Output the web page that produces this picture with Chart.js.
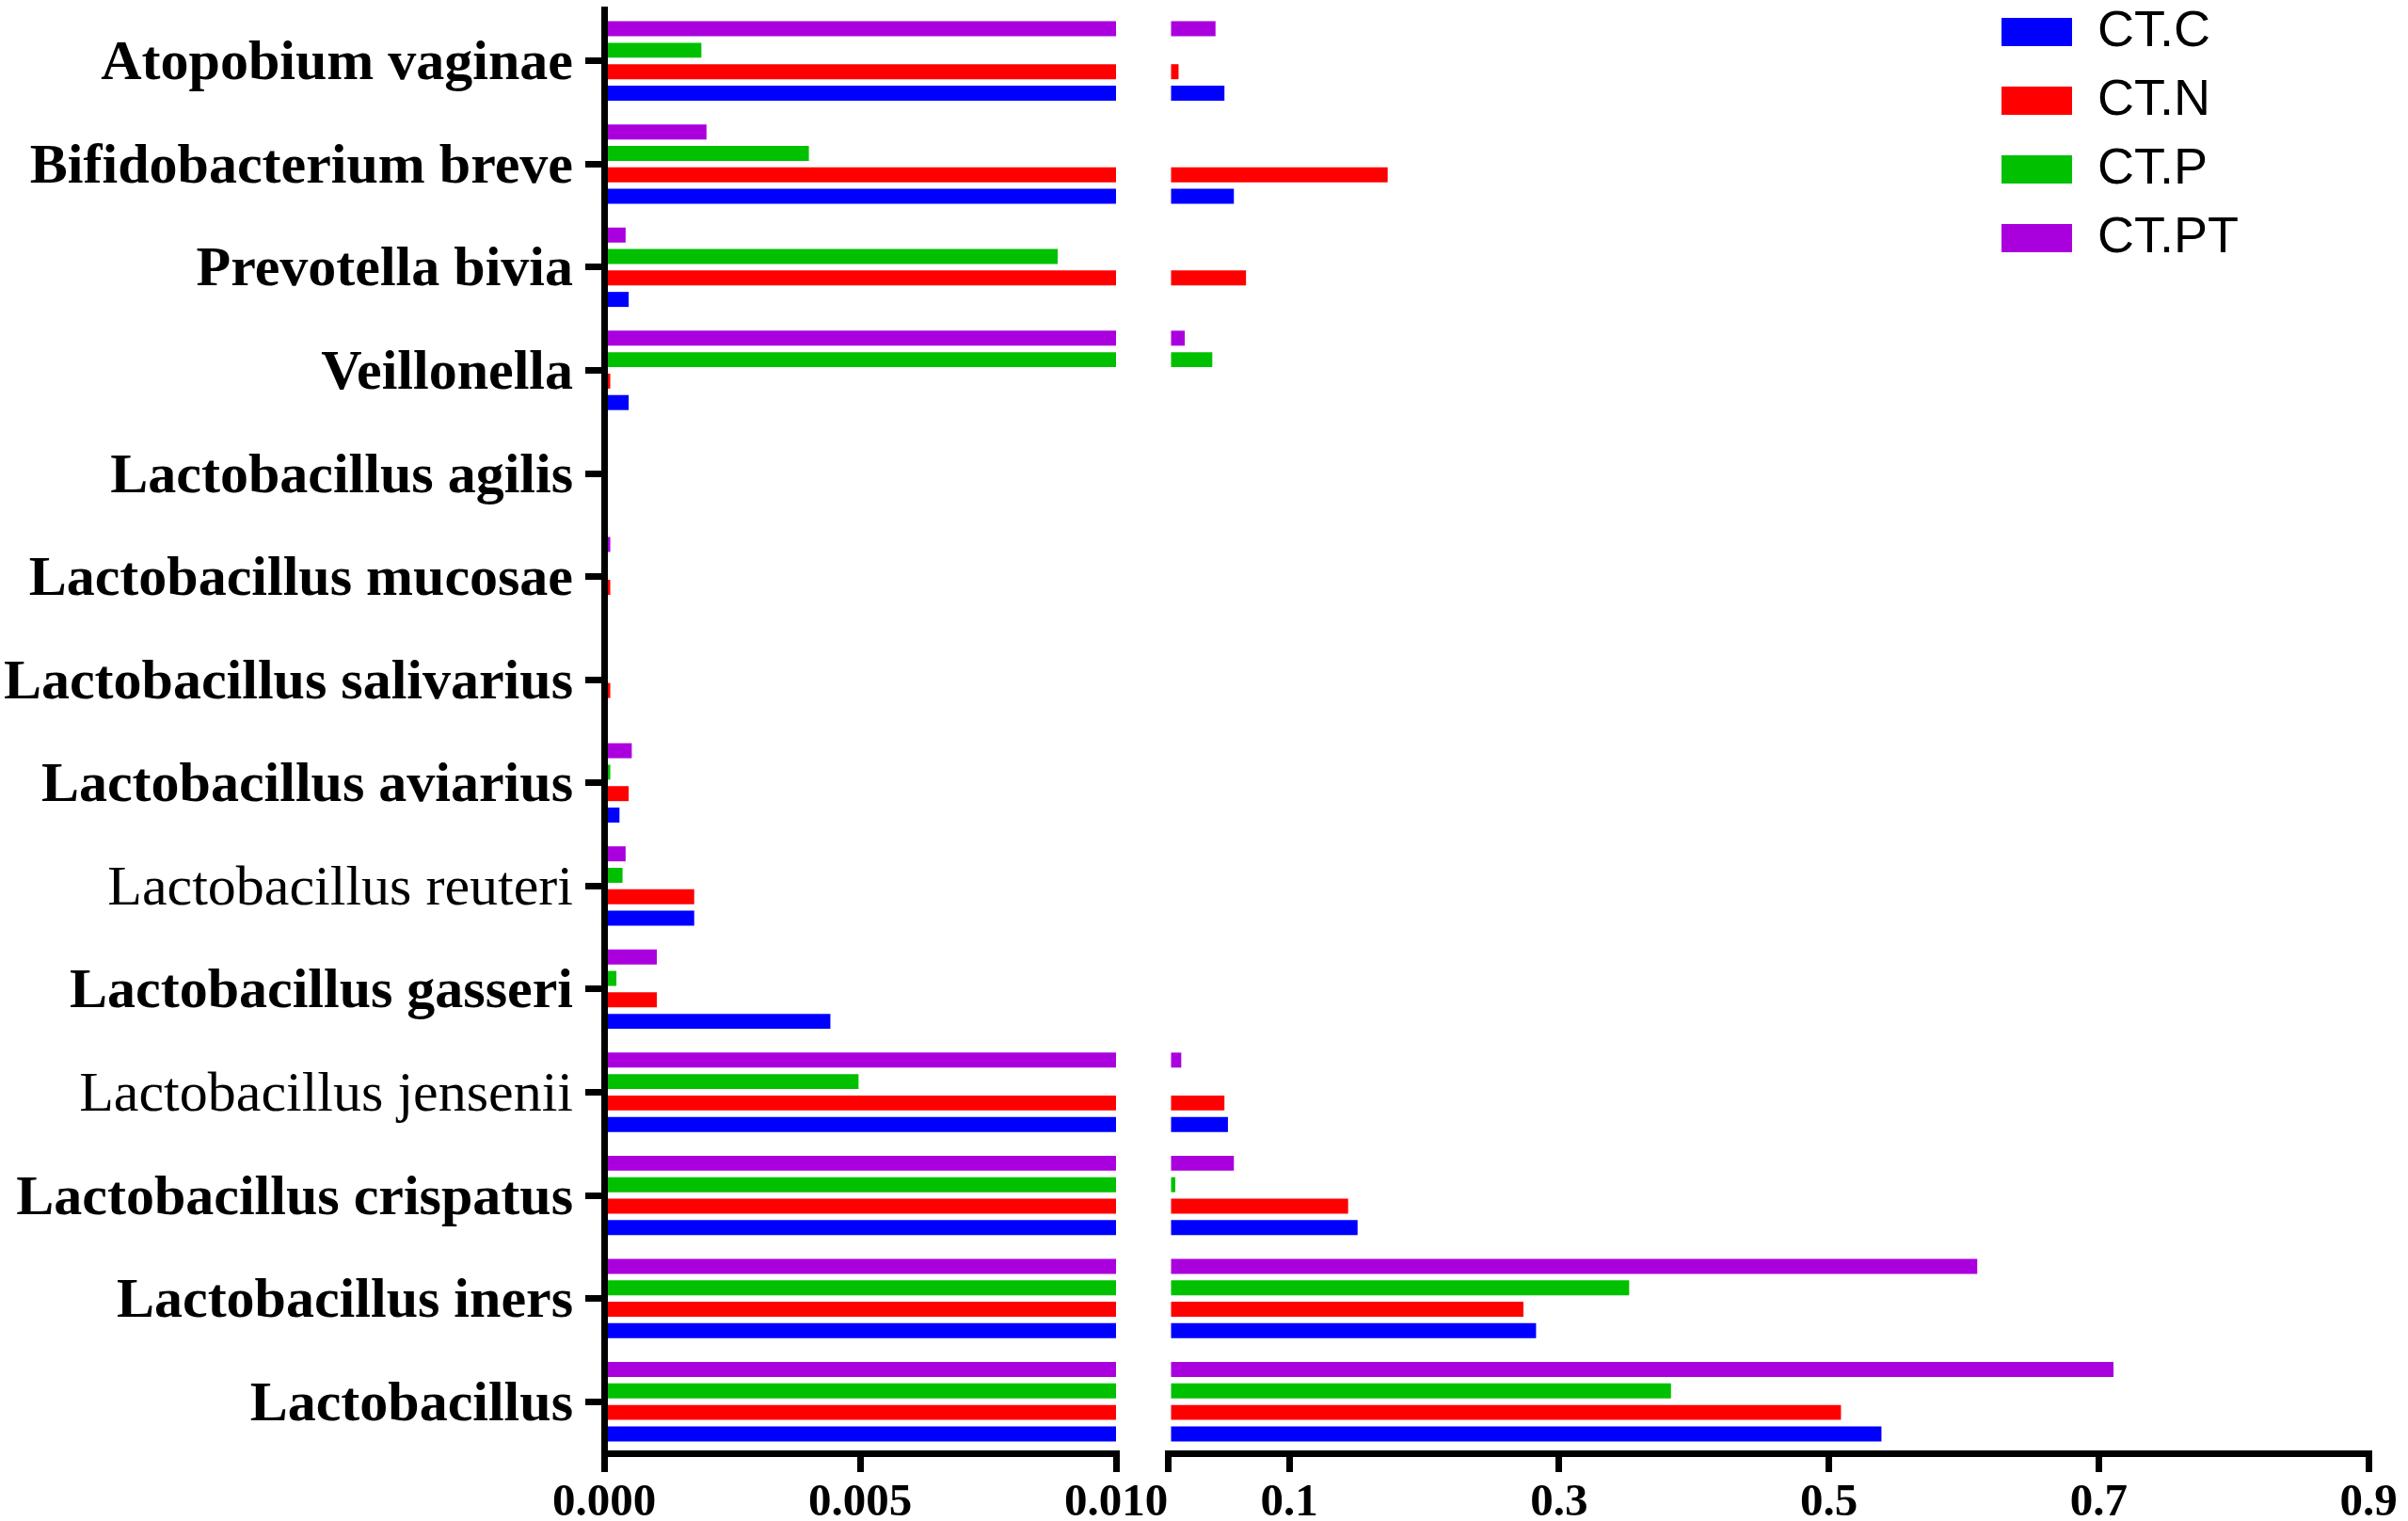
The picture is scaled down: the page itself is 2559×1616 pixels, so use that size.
<!DOCTYPE html>
<html>
<head>
<meta charset="utf-8">
<style>
  html, body { margin: 0; padding: 0; background: #fff; }
  #wrap { width: 2559px; height: 1616px; }
</style>
<script src="https://cdn.jsdelivr.net/npm/chart.js@4/dist/chart.umd.min.js"></script>
</head>
<body>
<div id="wrap"><canvas id="c" width="2559" height="1616"></canvas></div>
<script>
// ---------------- data ----------------
const CATEGORIES = [
  'Atopobium vaginae', 'Bifidobacterium breve', 'Prevotella bivia', 'Veillonella',
  'Lactobacillus agilis', 'Lactobacillus mucosae', 'Lactobacillus salivarius',
  'Lactobacillus aviarius', 'Lactobacillus reuteri', 'Lactobacillus gasseri',
  'Lactobacillus jensenii', 'Lactobacillus crispatus', 'Lactobacillus iners', 'Lactobacillus'
];
const NORMAL_WEIGHT_LABELS = ['Lactobacillus reuteri', 'Lactobacillus jensenii'];

const SERIES_NAMES = ['CT.C', 'CT.N', 'CT.P', 'CT.PT'];
const CT_C  = [0.052, 0.059, 0.00048, 0.00048, 0, 0, 0.00006, 0.0003, 0.00176, 0.00442, 0.0546, 0.1507, 0.283, 0.539];
const CT_N  = [0.018, 0.173, 0.068, 0.00012, 0, 0.00012, 0.00012, 0.00048, 0.00176, 0.00103, 0.052, 0.1437, 0.2736, 0.509];
const CT_P  = [0.0019, 0.004, 0.00886, 0.043, 0, 0, 0, 0.00012, 0.00036, 0.00024, 0.00497, 0.0156, 0.352, 0.383];
const CT_PT = [0.0454, 0.002, 0.00042, 0.0226, 0, 0.00012, 0.00006, 0.00054, 0.00042, 0.00103, 0.020, 0.059, 0.610, 0.711];

const LEFT_TICKS = [0, 0.005, 0.01];
const LEFT_TICK_LABELS = ['0.000', '0.005', '0.010'];
const RIGHT_TICKS = [0.01, 0.1, 0.3, 0.5, 0.7, 0.9];
const RIGHT_TICK_LABELS = ['', '0.1', '0.3', '0.5', '0.7', '0.9'];

const COLORS = { 'CT.C': '#0000FF', 'CT.N': '#FF0000', 'CT.P': '#00C000', 'CT.PT': '#AA00DD' };

// ---------------- chart ----------------
const BREAK = LEFT_TICKS[LEFT_TICKS.length - 1];
const AXIS_MAX = RIGHT_TICKS[RIGHT_TICKS.length - 1];
const VALUES = { 'CT.C': CT_C, 'CT.N': CT_N, 'CT.P': CT_P, 'CT.PT': CT_PT };
const DRAW_ORDER = ['CT.PT', 'CT.P', 'CT.N', 'CT.C']; // top to bottom inside a group

const datasets = [];
DRAW_ORDER.forEach(name => {
  datasets.push({
    label: name, stack: name, xAxisID: 'x1',
    data: VALUES[name].map(v => Math.min(v, BREAK)),
    backgroundColor: COLORS[name], borderWidth: 0
  });
});
DRAW_ORDER.forEach(name => {
  datasets.push({
    label: name, stack: name, xAxisID: 'x2', base: BREAK,
    data: VALUES[name].map(v => (v > BREAK ? v : null)),
    backgroundColor: COLORS[name], borderWidth: 0
  });
});

Chart.defaults.color = '#000';

const tickFont = { family: 'Liberation Serif', size: 49, weight: 'bold' };
const xGrid = { display: true, drawOnChartArea: false, drawTicks: true, tickLength: 20, tickWidth: 7, tickColor: '#000', color: '#000', lineWidth: 7 };
const xBorder = { display: true, width: 7, color: '#000', z: 1 };
const xAfterFit = s => { s.height = 72; s.paddingLeft = 0; s.paddingRight = 0; };

const legendMover = {
  id: 'legendMover',
  afterLayout(chart) {
    const lg = chart.legend;
    if (!lg) return;
    lg.left = 2108; lg.top = -12;
    lg.width = 440; lg.height = 400;
    lg.right = lg.left + lg.width; lg.bottom = lg.top + lg.height;
  }
};

new Chart(document.getElementById('c'), {
  type: 'bar',
  data: { labels: CATEGORIES, datasets },
  plugins: [legendMover],
  options: {
    indexAxis: 'y',
    responsive: false,
    devicePixelRatio: 1,
    animation: false,
    barPercentage: 0.70,
    categoryPercentage: 0.832,
    layout: { padding: { left: 5, top: 10, right: 42, bottom: 0 } },
    scales: {
      y: {
        type: 'category',
        offset: true,
        grid: { display: true, offset: false, drawOnChartArea: false, drawTicks: true, tickLength: 20, tickWidth: 7, tickColor: '#000', color: '#000' },
        border: { display: true, width: 7, color: '#000', z: 1 },
        ticks: {
          padding: 13,
          labelOffset: 4,
          color: '#000',
          font: ctx => ({
            family: 'Liberation Serif', size: 60,
            weight: NORMAL_WEIGHT_LABELS.includes(CATEGORIES[ctx.index]) ? 'normal' : 'bold'
          })
        },
        afterFit: s => { s.width = 637; s.paddingTop = 0; s.paddingBottom = 0; }
      },
      x1: {
        type: 'linear', axis: 'x', position: 'bottom', stack: 'xs', stackWeight: 544,
        min: 0, max: BREAK, stacked: false,
        grid: xGrid, border: xBorder,
        ticks: {
          autoSkip: false, maxRotation: 0, minRotation: 0, padding: 4, color: '#000', font: tickFont,
          callback: (v, i) => LEFT_TICK_LABELS[i]
        },
        afterBuildTicks: s => { s.ticks = LEFT_TICKS.map(value => ({ value })); },
        afterFit: xAfterFit
      },
      xg: {
        type: 'linear', axis: 'x', position: 'bottom', stack: 'xs', stackWeight: 55,
        min: 0, max: 1,
        grid: { display: false }, border: { display: false },
        ticks: { display: false },
        afterFit: xAfterFit
      },
      x2: {
        type: 'linear', axis: 'x', position: 'bottom', stack: 'xs', stackWeight: 1276,
        min: BREAK, max: AXIS_MAX, stacked: false, beginAtZero: false,
        grid: xGrid, border: xBorder,
        ticks: {
          autoSkip: false, maxRotation: 0, minRotation: 0, padding: 4, color: '#000', font: tickFont,
          callback: (v, i) => RIGHT_TICK_LABELS[i]
        },
        afterBuildTicks: s => { s.ticks = RIGHT_TICKS.map(value => ({ value })); },
        afterFit: xAfterFit
      }
    },
    plugins: {
      tooltip: { enabled: false },
      legend: {
        position: 'chartArea',
        align: 'start',
        reverse: true,
        labels: {
          filter: item => item.datasetIndex < DRAW_ORDER.length,
          boxWidth: 75, boxHeight: 30, padding: 19,
          color: '#000',
          font: { family: 'Liberation Sans', size: 54 }
        }
      }
    }
  }
});
</script>
</body>
</html>
